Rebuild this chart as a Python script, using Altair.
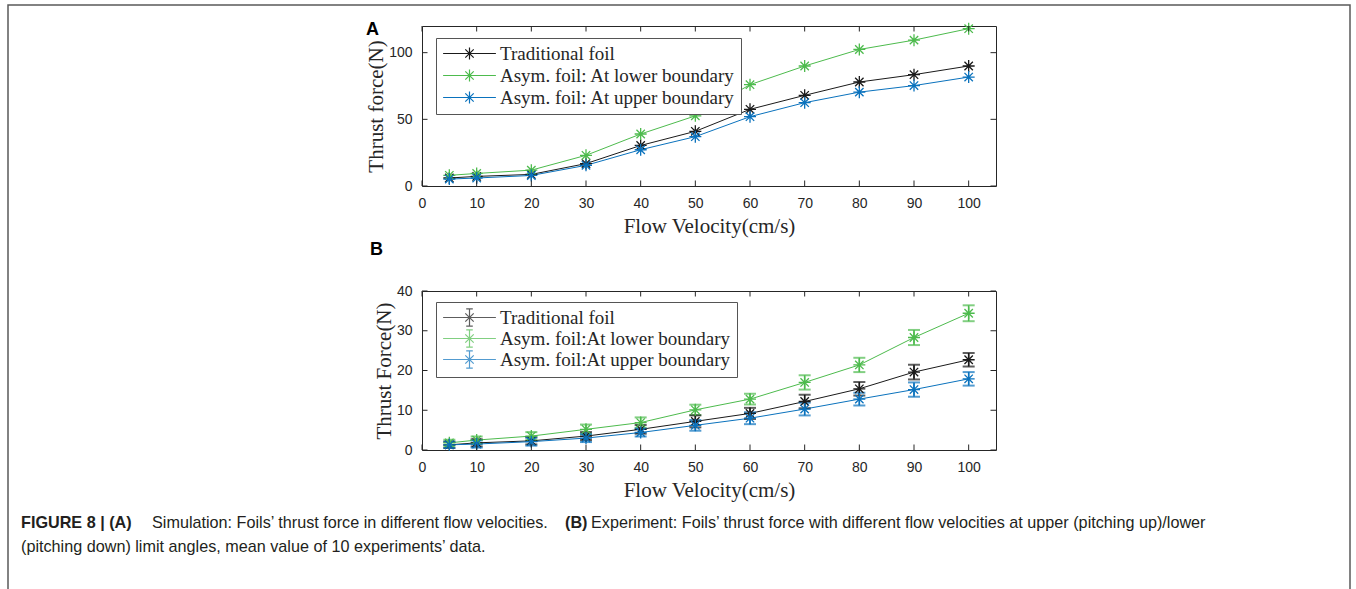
import altair as alt
import pandas as pd

velocity = [5, 10, 20, 30, 40, 50, 60, 70, 80, 90, 100]
series_a = ["Traditional foil", "Asym. foil: At lower boundary", "Asym. foil: At upper boundary"]
series_b = ["Traditional foil", "Asym. foil:At lower boundary", "Asym. foil:At upper boundary"]
colors = ["#1a1a1a", "#4dbb4d", "#0a72bd"]

a_trad = [6.0, 7.2, 8.7, 16.8, 30.4, 41.0, 57.5, 68.0, 78.0, 83.5, 90.0]
a_lower = [8.0, 9.4, 11.9, 23.0, 39.0, 52.6, 76.0, 90.0, 102.4, 109.4, 118.0]
a_upper = [5.2, 6.0, 7.9, 15.5, 27.2, 37.0, 52.0, 62.5, 70.4, 75.3, 81.7]

b_trad = [1.3, 1.8, 2.3, 3.5, 5.2, 7.2, 9.2, 12.2, 15.4, 19.6, 22.7]
b_lower = [1.8, 2.5, 3.5, 5.2, 6.9, 10.1, 12.8, 17.0, 21.4, 28.3, 34.4]
b_upper = [1.3, 1.5, 2.1, 3.0, 4.4, 6.2, 8.0, 10.3, 12.8, 15.2, 17.9]
b_trad_err = [0.8, 0.9, 0.9, 1.0, 1.1, 1.5, 1.4, 1.7, 1.7, 1.85, 1.7]
b_lower_err = [0.8, 0.9, 1.0, 1.2, 1.3, 1.3, 1.35, 1.8, 1.8, 1.9, 2.0]
b_upper_err = [0.8, 0.9, 1.0, 1.0, 1.0, 1.35, 1.5, 1.6, 1.6, 1.8, 1.7]

x_ticks = [0, 10, 20, 30, 40, 50, 60, 70, 80, 90, 100]
ya_ticks = [0, 50, 100]
yb_ticks = [0, 10, 20, 30, 40]

caption_parts = [
    ("FIGURE 8 | (A)", "bold", 21, 0),
    ("Simulation: Foils’ thrust force in different flow velocities.", "normal", 152, 0),
    ("(B)", "bold", 565, 0),
    ("Experiment: Foils’ thrust force with different flow velocities at upper (pitching up)/lower", "normal", 591, 0),
    ("(pitching down) limit angles, mean value of 10 experiments’ data.", "normal", 21, 1),
]

W, HA, HB = 574, 160, 159
TXT = "#262626"
STAR = "M-1,0L1,0M0,-1L0,1M-0.7,-0.7L0.7,0.7M-0.7,0.7L0.7,-0.7"
LEG_A = "M-4.4,0L4.4,0" + STAR
LEG_B = LEG_A + "M0,-1.45L0,1.45M-0.55,-1.45L0.55,-1.45M-0.55,1.45L0.55,1.45"

one = pd.DataFrame({"k": [0]})


def long_df(names, vals, errs=None):
    rows = []
    for i, (n, v) in enumerate(zip(names, vals)):
        for j, x in enumerate(velocity):
            r = {"velocity": x, "thrust": v[j], "series": n, "o": i}
            if errs is not None:
                r["lo"] = v[j] - errs[i][j]
                r["hi"] = v[j] + errs[i][j]
            rows.append(r)
    return pd.DataFrame(rows)


X_AXIS = alt.Axis(values=x_ticks, title="Flow Velocity(cm/s)", grid=False, domain=False,
                  ticks=False, tickSize=0, labelPadding=10, labelFont="Liberation Sans",
                  labelFontSize=14, labelColor=TXT, titleFont="Liberation Serif",
                  titleFontSize=21, titleFontWeight="normal", titleColor=TXT, titlePadding=5,
                  labelFlush=False)


def y_axis(vals, title):
    return alt.Axis(values=vals, title=title, grid=False, domain=False, ticks=False, tickSize=0,
                    labelPadding=10, labelFont="Liberation Sans", labelFontSize=14,
                    labelColor=TXT, titleFont="Liberation Serif", titleFontSize=21,
                    titleFontWeight="normal", titleColor=TXT, titlePadding=2, labelFlush=False)


def legend(sym, ly, rp):
    return alt.Legend(orient="none", legendX=14, legendY=ly, title=None,
                      labelFont="Liberation Serif", labelFontSize=19, labelColor=TXT,
                      labelLimit=500,
                      symbolType=sym, symbolSize=144, symbolStrokeWidth=1.2,
                      symbolFillColor="transparent", strokeColor="#555555", fillColor="white",
                      padding=6, rowPadding=rp, symbolOffset=18, labelOffset=21)


XSC = alt.Scale(domain=[0, 105], nice=False, zero=False)


def tick_layers(yvals, yscale, yaxis, H):
    xs = alt.X("t:Q", scale=XSC, axis=X_AXIS)
    ys = alt.Y("t:Q", scale=yscale, axis=yaxis)
    dx = pd.DataFrame({"t": x_ticks})
    dy = pd.DataFrame({"t": yvals})
    r = dict(color=TXT, strokeWidth=1)
    return [
        alt.Chart(dx).mark_rule(**r).encode(x=xs, y=alt.value(H), y2=alt.value(H - 5.5)),
        alt.Chart(dx).mark_rule(**r).encode(x=xs, y=alt.value(0), y2=alt.value(5.5)),
        alt.Chart(dy).mark_rule(**r).encode(y=ys, x=alt.value(0), x2=alt.value(5.5)),
        alt.Chart(dy).mark_rule(**r).encode(y=ys, x=alt.value(W), x2=alt.value(W - 5.5)),
    ]


# ---------- Panel A ----------
dfa = long_df(series_a, [a_trad, a_lower, a_upper])
ysA = alt.Scale(domain=[0, 120], nice=False)
yaxA = y_axis(ya_ticks, "Thrust force(N)")
xA = alt.X("velocity:Q", scale=XSC, axis=X_AXIS)
yA = alt.Y("thrust:Q", scale=ysA, axis=yaxA)
cA = alt.Scale(domain=series_a, range=colors)
legA = legend(LEG_A, 12, 2.0)
lineA = alt.Chart(dfa).mark_line(strokeWidth=1).encode(
    x=xA, y=yA, color=alt.Color("series:N", scale=cA, legend=legA), detail="series:N")
ptsA = alt.Chart(dfa).mark_point(shape=STAR, size=144, filled=False, strokeWidth=1.3, opacity=1).encode(
    x=xA, y=yA, color=alt.Color("series:N", scale=cA, legend=legA))

frame = alt.Chart(one).mark_rect(fillOpacity=0, stroke="#5a5a5a", strokeWidth=1.5).encode(
    x=alt.value(8 - 422), x2=alt.value(1350 - 422), y=alt.value(5 - 26), y2=alt.value(620))
labA = alt.Chart(one).mark_text(text="A", font="Liberation Sans", fontSize=18, fontWeight="bold",
                                color="black", align="left", baseline="middle").encode(
    x=alt.value(-56), y=alt.value(4))

panelA = alt.layer(frame, lineA, ptsA, *tick_layers(ya_ticks, ysA, yaxA, HA), labA).properties(width=W, height=HA)

# ---------- Panel B ----------
dfb = long_df(series_b, [b_trad, b_lower, b_upper], [b_trad_err, b_lower_err, b_upper_err])
xB = alt.X("velocity:Q", scale=XSC, axis=X_AXIS)
ysB = alt.Scale(domain=[0, 40], nice=False)
yaxB = y_axis(yb_ticks, "Thrust Force(N)")
yB = alt.Y("thrust:Q", scale=ysB, axis=yaxB)
cB = alt.Scale(domain=series_b, range=colors)
legB = legend(LEG_B, 11, -3.0)
colB = alt.Color("series:N", scale=cB, legend=legB)
lineB = alt.Chart(dfb).mark_line(strokeWidth=1).encode(x=xB, y=yB, color=colB, detail="series:N")
errB = alt.Chart(dfb).mark_rule(strokeWidth=1.6).encode(
    x=xB, y=alt.Y("lo:Q", scale=ysB, axis=yaxB), y2="hi:Q", color=colB)
capLo = alt.Chart(dfb).mark_tick(size=12, thickness=2, orient="horizontal").encode(
    x=xB, y=alt.Y("lo:Q", scale=ysB, axis=yaxB), color=colB)
capHi = alt.Chart(dfb).mark_tick(size=12, thickness=2, orient="horizontal").encode(
    x=xB, y=alt.Y("hi:Q", scale=ysB, axis=yaxB), color=colB)
ptsB = alt.Chart(dfb).mark_point(shape=STAR, size=144, filled=False, strokeWidth=1.3, opacity=1).encode(
    x=xB, y=yB, color=colB)
labB = alt.Chart(one).mark_text(text="B", font="Liberation Sans", fontSize=18, fontWeight="bold",
                                color="black", align="left", baseline="middle").encode(
    x=alt.value(-52), y=alt.value(-41))

cap_layers = []
for txt, wt, cx, line in caption_parts:
    cap_layers.append(
        alt.Chart(one).mark_text(text=txt, font="Liberation Sans", fontSize=16.2, fontWeight=wt,
                                 color="#231f20", align="left", baseline="middle").encode(
            x=alt.value(cx - 422), y=alt.value(523 - 291 + 24 * line)))

panelB = alt.layer(lineB, errB, capLo, capHi, ptsB, *tick_layers(yb_ticks, ysB, yaxB, HB), labB,
                   *cap_layers).properties(width=W, height=HB)

chart = alt.vconcat(panelA, panelB, spacing=105, bounds="flush").resolve_scale(
    color="independent").resolve_legend(color="independent").properties(
    autosize=alt.AutoSizeParams(type="none"),
    padding={"left": 422, "top": 26, "right": 1356 - 422 - W, "bottom": 589 - 26},
    background="white",
).configure_view(stroke=TXT, strokeWidth=1)

chart.save("out.html", embed_options={"renderer": "svg", "actions": False})
